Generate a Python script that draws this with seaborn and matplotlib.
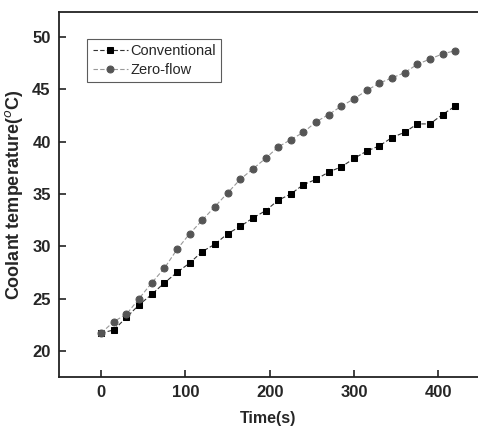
import numpy as np
import pandas as pd
import matplotlib
matplotlib.use("Agg")
import matplotlib.pyplot as plt
import seaborn as sns

# readings every 15 s
time_s = list(range(0, 421, 15))
conventional = [21.7, 22.0, 23.2, 24.4, 25.4, 26.5, 27.5, 28.4, 29.5, 30.2,
                31.2, 31.9, 32.7, 33.4, 34.4, 35.0, 35.9, 36.4, 37.1, 37.6,
                38.4, 39.1, 39.6, 40.4, 40.9, 41.7, 41.7, 42.6, 43.4]
zero_flow = [21.7, 22.8, 23.5, 25.0, 26.5, 27.9, 29.7, 31.2, 32.5, 33.8,
             35.1, 36.4, 37.4, 38.4, 39.5, 40.2, 40.9, 41.9, 42.6, 43.4,
             44.1, 44.9, 45.6, 46.1, 46.6, 47.4, 47.9, 48.4, 48.7]
x_ticks = [0, 100, 200, 300, 400]
y_ticks = [20, 25, 30, 35, 40, 45, 50]

df = pd.DataFrame({
    "Time": time_s * 2,
    "Temp": conventional + zero_flow,
    "Mode": ["Conventional"] * len(time_s) + ["Zero-flow"] * len(time_s),
})

sns.set_style("white")
plt.rcParams["font.family"] = ["Liberation Sans", "DejaVu Sans"]

fig = plt.figure(figsize=(4.78, 4.32), dpi=100)
ax = fig.add_axes([0.1234, 0.1273, 0.8766, 0.8449])

sns.lineplot(data=df[df.Mode == "Conventional"], x="Time", y="Temp", ax=ax,
             color="#333333", linestyle=(0, (4, 2)), linewidth=0.8,
             marker="s", markersize=4.6, markerfacecolor="black",
             markeredgecolor="black", label="Conventional")
sns.lineplot(data=df[df.Mode == "Zero-flow"], x="Time", y="Temp", ax=ax,
             color="#999999", linestyle=(0, (4, 2)), linewidth=0.8,
             marker="o", markersize=5.0, markerfacecolor="#555555",
             markeredgecolor="#555555", label="Zero-flow")

ax.set_xlim(-50, 447)
ax.set_ylim(17.5, 52.4)
ax.set_xticks(x_ticks)
ax.set_yticks(y_ticks)
ax.tick_params(direction="in", length=5, width=1.2, labelsize=12, color="#222222",
               bottom=True, left=True, pad=6)
for lab in ax.get_xticklabels() + ax.get_yticklabels():
    lab.set_fontweight("bold")
for side in ["left", "bottom", "top"]:
    ax.spines[side].set_color("#222222")
    ax.spines[side].set_linewidth(1.3)
ax.spines["right"].set_visible(False)

ax.set_xlabel("Time(s)", fontsize=11.5, fontweight="bold", labelpad=8)
ax.set_ylabel("Coolant temperature($^{o}$C)", fontsize=13, fontweight="bold", labelpad=5)

leg = ax.legend(loc="upper left", bbox_to_anchor=(0.068, 0.925), fontsize=10.5,
                frameon=True, fancybox=False, borderpad=0.35, labelspacing=0.3,
                handlelength=2.4, handletextpad=0.2, borderaxespad=0)
leg.get_frame().set_edgecolor("#333333")
leg.get_frame().set_linewidth(0.8)

fig.savefig("out.png", dpi=100)
